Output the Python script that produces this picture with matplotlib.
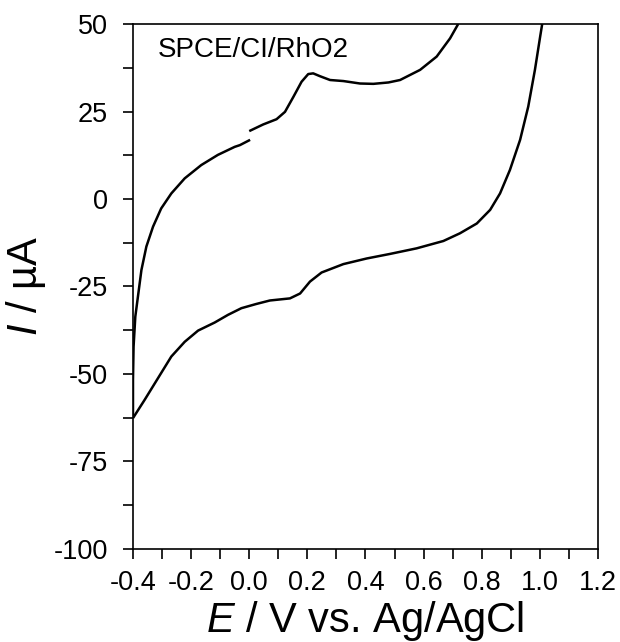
import matplotlib
matplotlib.use("Agg")
import matplotlib.pyplot as plt
from matplotlib.ticker import MultipleLocator, FormatStrFormatter

plt.rcParams['font.family'] = ['Liberation Sans', 'DejaVu Sans']
plt.rcParams['mathtext.fontset'] = 'custom'
plt.rcParams['mathtext.rm'] = 'Liberation Sans'
plt.rcParams['mathtext.it'] = 'Liberation Sans:italic'
plt.rcParams['axes.unicode_minus'] = False

# anodic branch, split at the small gap near 0.0 V
upper_left_E = [-0.400, -0.400, -0.398, -0.392, -0.383, -0.371, -0.354, -0.331, -0.303,
                -0.268, -0.222, -0.165, -0.108, -0.050, -0.032, 0.003]
upper_left_I = [-62.5, -51.7, -42.2, -33.6, -27.9, -20.3, -13.6, -7.9, -2.7,
                1.6, 5.9, 9.7, 12.6, 14.9, 15.4, 16.9]

upper_right_E = [0.000, 0.048, 0.094, 0.123, 0.152, 0.180, 0.203, 0.220, 0.243, 0.278,
                 0.324, 0.381, 0.427, 0.479, 0.519, 0.588, 0.645, 0.691, 0.719]
upper_right_I = [19.4, 21.3, 22.8, 24.9, 29.2, 33.5, 35.7, 35.9, 35.1, 34.0,
                 33.7, 33.0, 32.9, 33.3, 34.0, 36.9, 40.7, 45.9, 50.0]

# cathodic / return branch
lower_E = [-0.400, -0.360, -0.314, -0.268, -0.222, -0.176, -0.119, -0.073, -0.027, 0.024,
           0.071, 0.140, 0.175, 0.209, 0.249, 0.324, 0.404, 0.484, 0.576, 0.668,
           0.725, 0.783, 0.829, 0.863, 0.897, 0.932, 0.960, 0.983, 1.001, 1.008]
lower_I = [-62.6, -57.4, -51.2, -45.0, -40.8, -37.6, -35.3, -33.1, -31.2, -30.0,
           -29.0, -28.4, -27.0, -23.6, -21.0, -18.6, -17.0, -15.7, -14.1, -12.0,
           -9.8, -7.0, -3.1, 1.6, 8.3, 16.9, 26.4, 36.9, 46.4, 50.0]

fig = plt.figure(figsize=(6.2, 6.42), dpi=100)
ax = fig.add_axes([0.2145, 0.1449, 0.75, 0.8177])

for xs, ys in [(upper_left_E, upper_left_I), (upper_right_E, upper_right_I), (lower_E, lower_I)]:
    ax.plot(xs, ys, color='black', lw=1.8, solid_capstyle='butt', solid_joinstyle='round')

ax.set_xlim(-0.4, 1.2)
ax.set_ylim(-100, 50)
ax.xaxis.set_major_locator(MultipleLocator(0.2))
ax.xaxis.set_minor_locator(MultipleLocator(0.1))
ax.yaxis.set_major_locator(MultipleLocator(25))
ax.yaxis.set_minor_locator(MultipleLocator(12.5))
ax.xaxis.set_major_formatter(FormatStrFormatter('%.1f'))
ax.yaxis.set_major_formatter(FormatStrFormatter('%d'))

ax.tick_params(which='both', direction='out', length=7, width=1.2, top=False, right=False)
ax.tick_params(axis='y', which='major', labelsize=19.5, pad=11)
ax.tick_params(axis='x', which='major', labelsize=19.5, pad=8)
for s in ax.spines.values():
    s.set_linewidth(1.2)

ax.set_xlabel('$\\it{E}$ / V vs. Ag/AgCl', fontsize=30, labelpad=2)
ax.set_ylabel('$\\it{I}$ / µA', fontsize=30, labelpad=4)

ax.text(0.054, 0.95, 'SPCE/CI/RhO2', transform=ax.transAxes, fontsize=20, va='center', ha='left')

fig.savefig('out.png', dpi=100)
